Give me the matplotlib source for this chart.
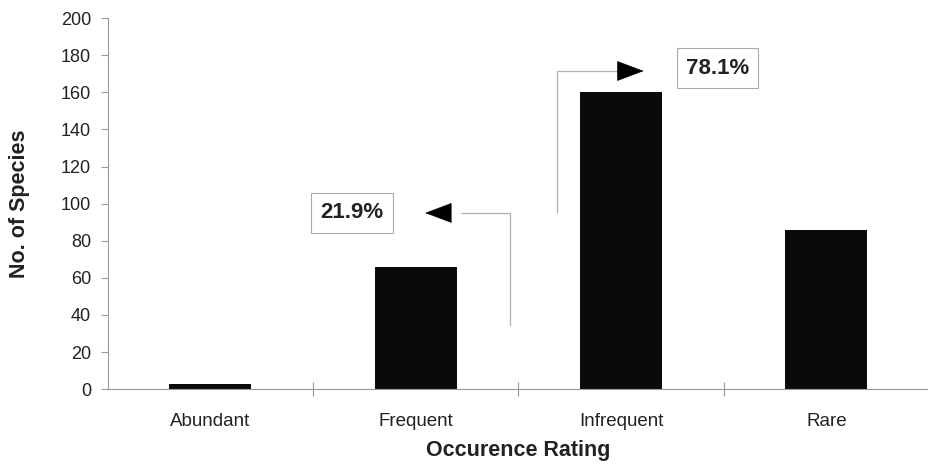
import matplotlib
matplotlib.use("Agg")
import matplotlib.pyplot as plt

# species counts per occurrence rating
ratings = ["Abundant", "Frequent", "Infrequent", "Rare"]
species = [3, 66, 160, 86]

# grouped shares: abundant+frequent vs infrequent+rare
share_labels = ["21.9%", "78.1%"]

plt.rcParams["font.family"] = ["Liberation Sans", "DejaVu Sans"]

fig = plt.figure(figsize=(9.29, 4.65), dpi=100)
ax = fig.add_axes([0.116, 0.163, 0.884, 0.798])

x = range(len(ratings))
ax.bar(x, species, width=0.40, color="#0a0a0a")

ax.set_xlim(-0.5, 3.5)
ax.set_ylim(0, 200)
ax.set_yticks(range(0, 201, 20))

ax.set_xticks(list(x))
ax.set_xticklabels(ratings, fontsize=13.5, color="#222222")
ax.tick_params(axis="x", length=0, pad=17)
ax.set_xticks([0.5, 1.5, 2.5], minor=True)
ax.tick_params(axis="x", which="minor", direction="inout", length=10,
               color="#999999", width=0.8)
ax.tick_params(axis="y", length=5, color="#999999", width=0.8,
               labelsize=13, labelcolor="#222222", pad=7)

for side in ["top", "right"]:
    ax.spines[side].set_visible(False)
for side in ["left", "bottom"]:
    ax.spines[side].set_color("#999999")
    ax.spines[side].set_linewidth(0.8)

ax.set_xlabel("Occurence Rating", fontsize=15.5, fontweight="bold",
              color="#222222", labelpad=7)
ax.set_ylabel("No. of Species", fontsize=15.5, fontweight="bold",
              color="#222222", labelpad=22)

# connector lines
ax.plot([1.46, 1.46, 1.22], [34.5, 95, 95], color="#b0b0b0", lw=0.9)
ax.plot([1.69, 1.69, 1.98], [95.5, 171.5, 171.5], color="#b0b0b0", lw=0.9)

head = dict(arrowstyle="-|>,head_length=0.9,head_width=0.34",
            color="black", lw=0.5, mutation_scale=20, shrinkA=0, shrinkB=0)
ax.annotate("", xy=(1.046, 95), xytext=(1.17, 95), arrowprops=head)
ax.annotate("", xy=(2.11, 171.5), xytext=(1.99, 171.5), arrowprops=head)

box = dict(boxstyle="square,pad=0.42", fc="white", ec="#aaaaaa", lw=0.8)
ax.text(0.69, 95, share_labels[0], ha="center", va="center", fontsize=16,
        fontweight="bold", color="#222222", bbox=box)
ax.text(2.47, 173, share_labels[1], ha="center", va="center", fontsize=16,
        fontweight="bold", color="#222222", bbox=box)

fig.savefig("out.png", dpi=100)
